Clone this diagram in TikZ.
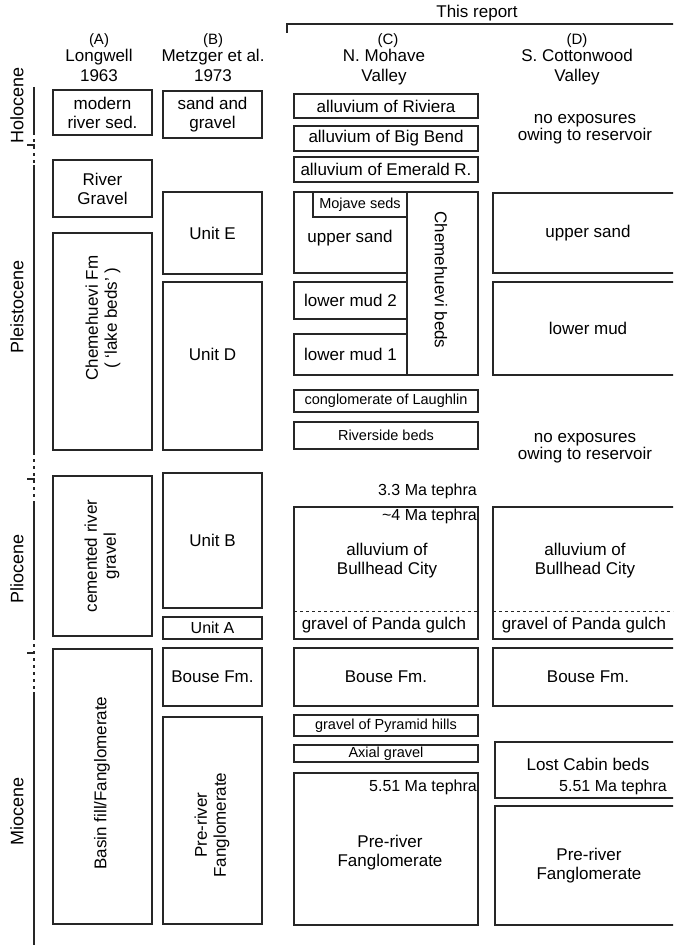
\documentclass[tikz,border=0pt]{standalone}
\usepackage{fontspec}
\setmainfont{Liberation Sans}
\usetikzlibrary{positioning}

\newcommand{\bedfont}{\fontsize{17}{19}\selectfont}
\newcommand{\thinfont}{\fontsize{14.5}{16}\selectfont}
\newcommand{\tephfont}{\fontsize{16}{18}\selectfont}
\newcommand{\erafont}{\fontsize{18}{20}\selectfont}
\newcommand{\letterfont}{\fontsize{15}{17}\selectfont}

\begin{document}
\begin{tikzpicture}
	[x=1pt, y=-1pt,
	 bed/.style={draw=black!85, line width=1.05pt, inner sep=0pt, align=center, font=\bedfont},
	 colA/.style={minimum width=99},
	 colC/.style={minimum width=184},
	 colD/.style={minimum width=190},
	 thin/.style={font=\thinfont},
	 label/.style={align=center, font=\bedfont, inner sep=1pt},
	 tephra/.style={anchor=east, font=\tephfont, inner sep=1pt},
	 head/.style={font=\bedfont, text height=12, text depth=3.5, inner sep=0pt},
	 era/.style={rotate=90, font=\erafont},
	 ageline/.style={line width=1.4pt, black!85},
	 gap/.style={ageline, dash pattern=on 3pt off 4pt}]

	\useasboundingbox (0,0) rectangle (673,947);
	\clip (0,0) rectangle (673,947);

	% headings
	\node[head, font=\letterfont] (hA) at (99,40) {(A)};
	\node[head] (hA1) at (99,57) {Longwell};
	\node[head] (hA2) at (99,77) {1963};
	\node[head, font=\letterfont] (hB) at (213,40) {(B)};
	\node[head] (hB1) at (213,57) {Metzger et al.};
	\node[head] (hB2) at (213,77) {1973};
	\node[head, font=\letterfont] (hC) at (388,40) {(C)};
	\node[head] (hC1) at (384,57) {N. Mohave};
	\node[head] (hC2) at (384,77) {Valley};
	\node[head, font=\letterfont] (hD) at (577,40) {(D)};
	\node[head] (hD1) at (577,57) {S. Cottonwood};
	\node[head] (hD2) at (577,77) {Valley};
	\node[head] (report) at (477,13) {This report};
	\draw[line width=1.3pt, black!85] (287,33) |- (690,24);

	% epochs
	\node[era] (holo) at (17,105) {Holocene};
	\node[era] (pleis) at (17,307) {Pleistocene};
	\node[era] (plio) at (17,569) {Pliocene};
	\node[era] (mio) at (17,811) {Miocene};
	\draw[ageline] (34,87) -- (34,132) (34,165) -- (34,452)
		(34,502) -- (34,637) (34,692) -- (34,945);
	\foreach \top/\bnd/\bot in {132/145/165, 452/479/502, 637/653/692}{
		\draw[gap] (34,\top) -- (34,\bot);
		\draw[ageline] (27,\bnd) -- (35,\bnd);
	}

	% (A) Longwell
	\node[bed, colA, minimum height=45] (modern) at (102.5,112.5) {modern\\river sed.};
	\node[bed, colA, minimum height=57] (rivgrav) at (102.5,188.5) {River\\Gravel};
	\node[bed, colA, minimum height=217] (chemfm) at (102.5,341.5) {};
	\node[label, rotate=90] (chemfm-t) at (103,318) {Chemehuevi Fm\\( `lake beds' )};
	\node[bed, colA, minimum height=160] (cemgrav) at (102.5,556) {};
	\node[label, rotate=90] (cemgrav-t) at (102,556) {cemented river\\gravel};
	\node[bed, colA, minimum height=275] (basin) at (102.5,786.5) {};
	\node[label, rotate=90] (basin-t) at (102,783) {Basin fill/Fanglomerate};

	% (B) Metzger et al.
	\node[bed, colA, minimum height=47] (sandgrav) at (212.5,114.5) {sand and\\gravel};
	\node[bed, colA, minimum height=82] (unitE) at (212.5,233) {Unit E};
	\node[bed, colA, minimum height=168] (unitD) at (212.5,366) {};
	\node[label] (unitD-t) at (212.5,354) {Unit D};
	\node[bed, colA, minimum height=135] (unitB) at (212.5,540.5) {Unit B};
	\node[bed, colA, minimum height=22, font=\tephfont] (unitA) at (212.5,628) {Unit A};
	\node[bed, colA, minimum height=58] (bouseB) at (212.5,677) {Bouse Fm.};
	\node[bed, colA, minimum height=207] (prerivB) at (212.5,820.5) {};
	\node[label, rotate=90] (prerivB-t) at (212,825) {Pre-river\\Fanglomerate};

	% (C) N. Mohave Valley
	\node[bed, colC, minimum height=24] (riviera) at (386,106) {alluvium of Riviera};
	\node[bed, colC, minimum height=25] (bigbend) at (386,138.5) {alluvium of Big Bend};
	\node[bed, colC, minimum height=25] (emerald) at (386,169.5) {alluvium of Emerald R.};
	\node[bed, minimum width=71, minimum height=183] (chembeds) at (442.5,283.5) {};
	\node[label, rotate=-90] (chembeds-t) at (441,280) {Chemehuevi beds};
	\node[bed, minimum width=113, minimum height=81] (uppersand) at (350.5,232.5) {};
	\node[label] (uppersand-t) at (350,238) {upper sand};
	\node[bed, thin, minimum width=94, minimum height=25] (mojave) at (360,204.5) {Mojave seds};
	\node[bed, minimum width=113, minimum height=37] (lowmud2) at (350.5,300.5) {lower mud 2};
	\node[bed, minimum width=113, minimum height=41] (lowmud1) at (350.5,354.5) {lower mud 1};
	\node[bed, colC, thin, minimum height=22] (laughlin) at (386,401) {conglomerate of Laughlin};
	\node[bed, colC, thin, minimum height=27] (riverside) at (386,435.5) {Riverside beds};
	\node[tephra] (teph33) at (478,491) {3.3 Ma tephra};
	\node[bed, colC, minimum height=132] (bullC) at (386,573) {};
	\draw[dashed, black!85, line width=0.9pt] (294,611) -- (478,611);
	\node[tephra] (teph4) at (478,516) {\textasciitilde4 Ma tephra};
	\node[label] (bullC-t) at (387,561) {alluvium of\\Bullhead City};
	\node[label] (pandaC) at (384,625) {gravel of Panda gulch};
	\node[bed, colC, minimum height=58] (bouseC) at (386,677) {Bouse Fm.};
	\node[bed, colC, thin, minimum height=21] (pyramid) at (386,725.5) {gravel of Pyramid hills};
	\node[bed, colC, thin, minimum height=17] (axial) at (386,753.5) {Axial gravel};
	\node[bed, colC, minimum height=152] (prerivC) at (386,849) {};
	\node[tephra] (teph551C) at (478,787) {5.51 Ma tephra};
	\node[label] (prerivC-t) at (390,853) {Pre-river\\Fanglomerate};

	% (D) S. Cottonwood Valley
	\node[label, font=\fontsize{17}{17}\selectfont] (noexpA) at (585,129.5) {no exposures\\owing to reservoir};
	\node[bed, colD, minimum height=80] (upperD) at (588,233) {upper sand};
	\node[bed, colD, minimum height=93] (lowmudD) at (588,328.5) {lower mud};
	\node[label, font=\fontsize{17}{17}\selectfont] (noexpB) at (585,448.5) {no exposures\\owing to reservoir};
	\node[bed, colD, minimum height=132] (bullD) at (588,573) {};
	\draw[dashed, black!85, line width=0.9pt] (493,611) -- (683,611);
	\node[label] (bullD-t) at (585,561) {alluvium of\\Bullhead City};
	\node[label] (pandaD) at (584,625) {gravel of Panda gulch};
	\node[bed, colD, minimum height=58] (bouseD) at (588,677) {Bouse Fm.};
	\node[bed, minimum width=188, minimum height=56] (lostcab) at (589,770) {};
	\node[label] (lostcab-t) at (588,764) {Lost Cabin beds};
	\node[tephra] (teph551D) at (668,787) {5.51 Ma tephra};
	\node[bed, minimum width=188, minimum height=119] (prerivD) at (589,865.5) {Pre-river\\Fanglomerate};
\end{tikzpicture}
\end{document}
